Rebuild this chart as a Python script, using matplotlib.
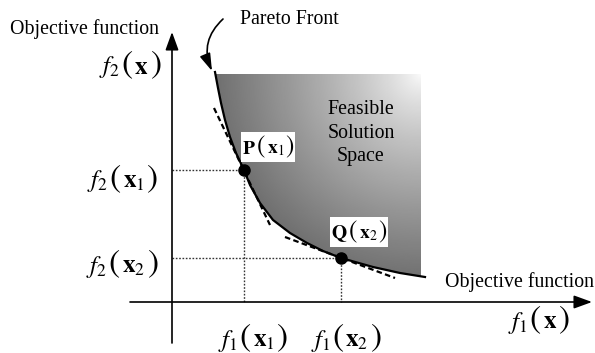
import numpy as np
import matplotlib
matplotlib.use('Agg')
import matplotlib.pyplot as plt
from matplotlib.patches import Polygon
from matplotlib.offsetbox import TextArea, HPacker, AnnotationBbox

plt.rcParams['font.family'] = ['Liberation Serif', 'DejaVu Serif']
plt.rcParams['mathtext.fontset'] = 'stix'

# Dados (coordenadas do desenho, y para baixo)
curva_x = [215, 218, 221, 225, 230, 236, 244, 250, 260, 273, 290, 307, 323, 341, 373, 400, 425]
curva_y = [72, 88, 103, 120, 137, 153, 170, 185, 203, 220, 233, 243, 251, 258, 267, 273, 277]

ponto_p = (244, 170)
ponto_q = (341, 258)

# tangentes tracejadas
tang_p_x = [214, 270]
tang_p_y = [108, 225]
tang_q_x = [285, 395]
tang_q_y = [237, 278]

# regiao viavel
regiao_topo = 74
regiao_dir = 421

origem = (172, 302)
eixo_x_fim = 592
eixo_y_fim = 32

# rotulos: (funcao, argumento, posicao do centro)
rotulos_y = [(r'$f_2$', r'$\mathbf{x}$', (130, 65)),
             (r'$f_2$', r'$\mathbf{x}_1$', (122, 179)),
             (r'$f_2$', r'$\mathbf{x}_2$', (122, 264))]
rotulos_x = [(r'$f_1$', r'$\mathbf{x}_1$', (253, 338)),
             (r'$f_1$', r'$\mathbf{x}_2$', (346, 338)),
             (r'$f_1$', r'$\mathbf{x}$', (539, 320))]
rotulos_pontos = [(r'$\mathbf{P}$', r'$\mathbf{x}_1$', (268, 147)),
                  (r'$\mathbf{Q}$', r'$\mathbf{x}_2$', (359, 232))]


def rotulo(ax, nome, arg, xy, tam=18, tam_par=24, sep=1, fundo=False):
    partes = [TextArea(nome, textprops=dict(fontsize=tam)),
              TextArea(r'$($', textprops=dict(fontsize=tam_par)),
              TextArea(arg, textprops=dict(fontsize=tam)),
              TextArea(r'$)$', textprops=dict(fontsize=tam_par))]
    pack = HPacker(children=partes, align='baseline', pad=0, sep=sep)
    ab = AnnotationBbox(pack, xy, xycoords='data', box_alignment=(0.5, 0.5), frameon=fundo,
                        pad=0.1, bboxprops=dict(facecolor='white', edgecolor='none'), zorder=6)
    ax.add_artist(ab)


fig = plt.figure(figsize=(5.95, 3.53), dpi=100)
ax = fig.add_axes([0, 0, 1, 1])
ax.set_xlim(0, 595)
ax.set_ylim(353, 0)
ax.axis('off')

# Regiao viavel com gradiente
verts = [(x, y) for x, y in zip(curva_x, curva_y) if x <= regiao_dir]
verts += [(regiao_dir, 276), (regiao_dir, regiao_topo), (curva_x[0], regiao_topo)]
poly = Polygon(verts, closed=True, facecolor='none', edgecolor='none')
ax.add_patch(poly)
gx, gy = np.meshgrid(np.linspace(curva_x[0], regiao_dir, 200), np.linspace(regiao_topo, 280, 200))
dist = np.hypot(gx - regiao_dir, gy - regiao_topo)
val = np.clip(0.98 - 0.54 * (dist / 205) ** 0.8, 0.42, 1)
img = ax.imshow(val, cmap='gray', vmin=0, vmax=1, extent=[curva_x[0], regiao_dir, 280, regiao_topo],
                aspect='auto', zorder=1)
img.set_clip_path(poly)

# Eixos
seta = '-|>,head_length=0.55,head_width=0.2'
ax.annotate('', xy=(eixo_x_fim, origem[1]), xytext=(130, origem[1]),
            arrowprops=dict(arrowstyle=seta, color='black', lw=1.2, mutation_scale=20, shrinkA=0, shrinkB=0))
ax.annotate('', xy=(origem[0], eixo_y_fim), xytext=(origem[0], 343),
            arrowprops=dict(arrowstyle=seta, color='black', lw=1.2, mutation_scale=20, shrinkA=0, shrinkB=0))

# Linhas pontilhadas
for px, py in [ponto_p, ponto_q]:
    ax.plot([origem[0], px], [py, py], color='#333333', lw=1, ls=(0, (1.2, 1.2)), zorder=2)
    ax.plot([px, px], [py, origem[1]], color='#333333', lw=1, ls=(0, (1.2, 1.2)), zorder=2)

# Tangentes
ax.plot(tang_p_x, tang_p_y, color='black', lw=1.6, ls=(0, (2.5, 1.5)), zorder=3)
ax.plot(tang_q_x, tang_q_y, color='black', lw=1.6, ls=(0, (2.5, 1.5)), zorder=3)

# Frente de Pareto
ax.plot(curva_x, curva_y, color='black', lw=1.6, zorder=4)
ax.plot([ponto_p[0], ponto_q[0]], [ponto_p[1], ponto_q[1]], 'o', color='black', ms=8, zorder=5)

# Textos
fs = 14.3
ax.text(10, 29, 'Objective function', fontsize=fs, va='center', ha='left')
ax.text(445, 282, 'Objective function', fontsize=fs, va='center', ha='left')
ax.text(240, 20, 'Pareto Front', fontsize=fs, va='center', ha='left')
ax.text(361, 133, 'Feasible\nSolution\nSpace', fontsize=fs, va='center', ha='center', linespacing=1.3, zorder=6)

ax.annotate('', xy=(212, 71), xytext=(223, 19),
            arrowprops=dict(arrowstyle='-|>,head_length=0.7,head_width=0.22', color='black', lw=1.2,
                            mutation_scale=15, connectionstyle='arc3,rad=0.35', shrinkA=0, shrinkB=0))

for nome, arg, xy in rotulos_y + rotulos_x:
    rotulo(ax, nome, arg, xy)
for nome, arg, xy in rotulos_pontos:
    rotulo(ax, nome, arg, xy, tam=14, tam_par=18, sep=0.5, fundo=True)

fig.savefig('out.png', dpi=100)
